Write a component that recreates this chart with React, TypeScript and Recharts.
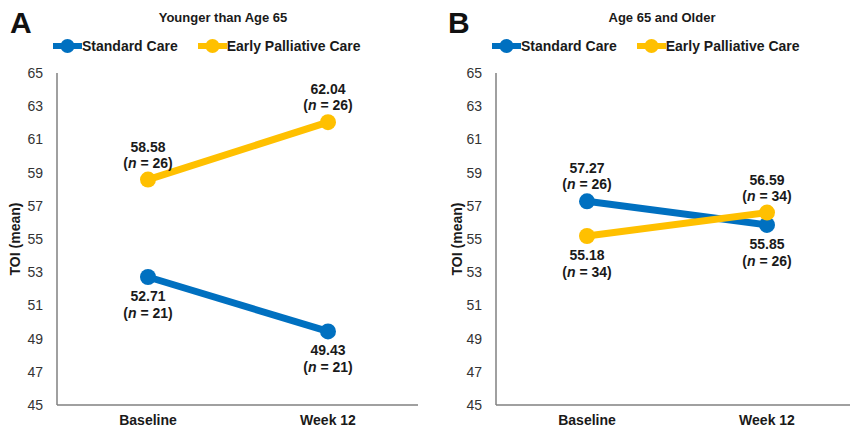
import React from "react";
import { LineChart, Line, XAxis, YAxis, Legend, LabelList } from "recharts";

// time points and TOI means per age group
const timepoints = ["Baseline", "Week 12"];
const yTicks = [45, 47, 49, 51, 53, 55, 57, 59, 61, 63, 65];
const seriesOrder = ["standard", "early"];

const youngerStandard = [52.71, 49.43];
const youngerEarly = [58.58, 62.04];
const youngerStandardN = [21, 21];
const youngerEarlyN = [26, 26];

const olderStandard = [57.27, 55.85];
const olderEarly = [55.18, 56.59];
const olderStandardN = [26, 26];
const olderEarlyN = [34, 34];

const BLUE = "#0070C0";
const GOLD = "#FFC000";
const FONT = "'Liberation Sans', Arial, sans-serif";

type Row = { time: string; standard: number; early: number };

const buildRows = (standard: number[], early: number[]): Row[] =>
  timepoints.map((time, i) => ({ time, standard: standard[i], early: early[i] }));

// label sits above the point when this series is the higher one at that time point
const makeLabel = (own: number[], other: number[], counts: number[]) => (props: any) => {
  const { x, y, index } = props;
  const above = own[index] >= other[index];
  const first = above ? y - 28 : y + 24;
  const second = above ? y - 12 : y + 41;
  return (
    <g fontFamily={FONT} fontSize={14} fontWeight="bold" fill="#1a1a1a" textAnchor="middle">
      <text x={x} y={first}>{own[index].toFixed(2)}</text>
      <text x={x} y={second}>
        (<tspan fontStyle="italic">n</tspan> = {counts[index]})
      </text>
    </g>
  );
};

const renderLegend = (props: any) => {
  const items = [...(props.payload || [])].sort(
    (a: any, b: any) => seriesOrder.indexOf(a.dataKey) - seriesOrder.indexOf(b.dataKey)
  );
  return (
    <div style={{ display: "flex", gap: 20, fontFamily: FONT, fontSize: 14, fontWeight: "bold", color: "#1a1a1a" }}>
      {items.map((entry: any) => (
        <div key={entry.value} style={{ display: "flex", alignItems: "center" }}>
          <svg width={29} height={16}>
            <line x1={1} y1={8} x2={28} y2={8} stroke={entry.color} strokeWidth={6} strokeLinecap="round" />
            <circle cx={14.5} cy={8} r={7} fill={entry.color} />
          </svg>
          <span>{entry.value}</span>
        </div>
      ))}
    </div>
  );
};

type PanelProps = {
  letter: string;
  title: string;
  left: number;
  axisWidth: number;
  padRight: number;
  marginRight: number;
  titleX: number;
  standard: number[];
  early: number[];
  standardN: number[];
  earlyN: number[];
  axisTitleX: number;
};

function Panel(p: PanelProps) {
  const rows = buildRows(p.standard, p.early);
  return (
    <div style={{ position: "absolute", left: p.left, top: 0, width: 425, height: 433, fontFamily: FONT }}>
      <div style={{ position: "absolute", left: p.letter === "A" ? 10 : 23, top: 6, fontSize: 30, fontWeight: "bold", color: "#111" }}>
        {p.letter}
      </div>
      <div
        style={{
          position: "absolute",
          left: p.titleX - 150,
          width: 300,
          top: 10,
          textAlign: "center",
          fontSize: 13,
          fontWeight: "bold",
          color: "#1a1a1a",
        }}
      >
        {p.title}
      </div>
      <LineChart width={425} height={433} data={rows} margin={{ top: 73, right: p.marginRight, bottom: 0, left: 0 }}>
        <XAxis
          dataKey="time"
          height={28}
          padding={{ left: 91, right: p.padRight }}
          tickLine={false}
          tickMargin={4}
          stroke="#808080"
          strokeWidth={1.5}
          tick={{ fill: "#1a1a1a", fontSize: 14, fontWeight: "bold" }}
        />
        <YAxis
          width={p.axisWidth}
          domain={[45, 65]}
          ticks={yTicks}
          interval={0}
          tickLine={false}
          tickMargin={8}
          stroke="#808080"
          strokeWidth={1.5}
          tick={{ fill: "#333", fontSize: 14 }}
          label={{
            value: "TOI (mean)",
            angle: -90,
            position: "insideLeft",
            offset: p.axisTitleX,
            style: { textAnchor: "middle", fontSize: 14, fontWeight: "bold", fill: "#1a1a1a" },
          }}
        />
        <Legend
          verticalAlign="middle"
          align="center"
          content={renderLegend}
          wrapperStyle={{ top: 38, left: p.axisWidth - 4, width: "auto" }}
        />
        <Line
          dataKey="standard"
          name="Standard Care"
          stroke={BLUE}
          strokeWidth={7}
          dot={{ r: 8, fill: BLUE, stroke: "none" }}
          activeDot={false}
          isAnimationActive={false}
        >
          <LabelList dataKey="standard" content={makeLabel(p.standard, p.early, p.standardN)} />
        </Line>
        <Line
          dataKey="early"
          name="Early Palliative Care"
          stroke={GOLD}
          strokeWidth={7}
          dot={{ r: 8, fill: GOLD, stroke: "none" }}
          activeDot={false}
          isAnimationActive={false}
        >
          <LabelList dataKey="early" content={makeLabel(p.early, p.standard, p.earlyN)} />
        </Line>
      </LineChart>
    </div>
  );
}

export default function App() {
  return (
    <div style={{ position: "absolute", left: 0, top: 0, width: 850, height: 433, background: "#fff", overflow: "hidden" }}>
      <Panel
        letter="A"
        title="Younger than Age 65"
        left={0}
        axisWidth={57}
        padRight={90}
        marginRight={7}
        titleX={223}
        standard={youngerStandard}
        early={youngerEarly}
        standardN={youngerStandardN}
        earlyN={youngerEarlyN}
        axisTitleX={15}
      />
      <Panel
        letter="B"
        title="Age 65 and Older"
        left={425}
        axisWidth={71}
        padRight={83}
        marginRight={0}
        titleX={237}
        standard={olderStandard}
        early={olderEarly}
        standardN={olderStandardN}
        earlyN={olderEarlyN}
        axisTitleX={32}
      />
    </div>
  );
}
